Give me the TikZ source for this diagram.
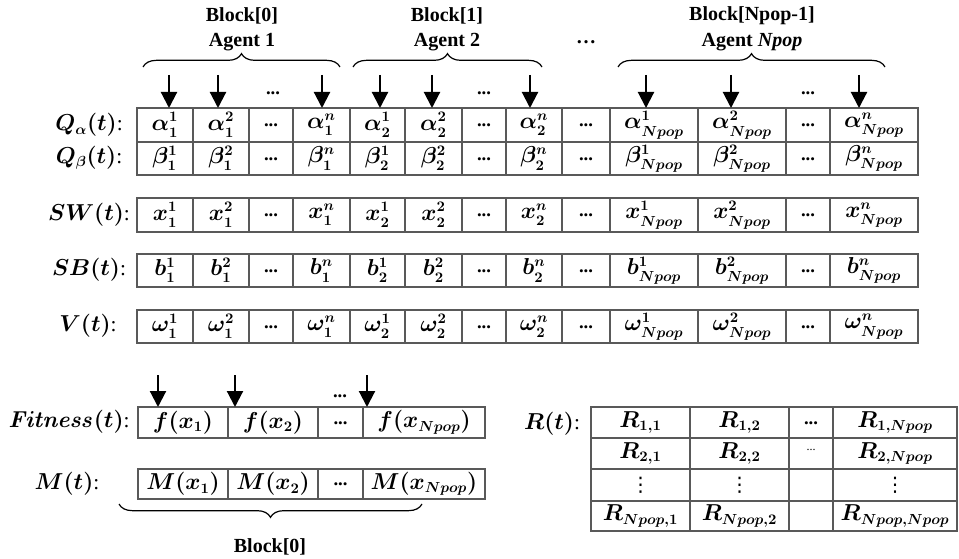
\documentclass[tikz,border=0pt]{standalone}
\usepackage{amsmath}
\usepackage[no-math]{fontspec}
\setmainfont{Liberation Serif}
\newfontfamily\djv{DejaVu Sans}
\usetikzlibrary{arrows.meta,decorations.pathreplacing}
\newcommand\cellnode[6]{\node[cell,minimum width={(#3-#2)*0.75pt},minimum height={(#5-#4)*0.75pt}] (#1) at ({(#2+#3)/2},{(#4+#5)/2}) {};
  \node[celltext] (#1-t) at (#1.center) {#6};}
\newcommand\celldots{\raisebox{-3pt}{\fontsize{14}{16}\selectfont\bfseries ...}}
\newcommand\vdotsc{{\djv\fontsize{15}{16}\selectfont ⋮}}
\newcommand\mainrow[4]{%
  \foreach \xa/\xb/\supv/\subv [count=\i] in {137/193/1/1,193/249/2/1,293/350/n/1,350/405/1/2,405/462/2/2,506/562/n/2,610/698/1/Npop,698/786/2/Npop,830/918/n/Npop}{%
    \cellnode{#1-\i}{\xa}{\xb}{#2}{#3}{$#4^{\supv}_{\subv}$}}%
  \foreach \xa/\xb [count=\i] in {249/293,462/506,562/610,786/830}{%
    \cellnode{#1-d\i}{\xa}{\xb}{#2}{#3}{\celldots}}%
}
\begin{document}
\begin{tikzpicture}[x=0.75pt,y=-0.75pt,
  cell/.style={draw=black!65,line width=0.8pt,inner sep=0pt,outer sep=0pt},
  celltext/.style={inner sep=0pt,font=\fontsize{16}{19}\selectfont\boldmath},
  lbl/.style={font=\fontsize{16}{19}\selectfont\boldmath,inner sep=0pt},
  hdr/.style={font=\fontsize{15}{18}\selectfont\bfseries,inner sep=0pt},
  dotstxt/.style={font=\fontsize{14}{16}\selectfont\bfseries,inner sep=0pt},
  arr/.style={line width=1.6pt,-{Triangle[width=12pt,length=12pt]}},
  brc/.style={decorate,decoration={brace,amplitude=10pt},line width=0.9pt}]
\useasboundingbox (0,0) rectangle (959,559);

% headers
\node[hdr] (b0) at (242,16) {Block[0]};
\node[hdr] (g1) at (242,42) {Agent 1};
\node[hdr] (b1) at (447,16) {Block[1]};
\node[hdr] (g2) at (447,42) {Agent 2};
\node[hdr] (gd) at (586,42) {…};
\node[hdr] (bn) at (752,16) {Block[Npop-1]};
\node[hdr] (gn) at (752,42) {Agent \textit{Npop}};

\draw[brc] (143,67) -- (340,67);
\draw[brc] (353,67) -- (542,67);
\draw[brc] (618,67) -- (885,67);

% rows
\mainrow{qa}{108}{142}{\alpha}
\mainrow{qb}{142}{175}{\beta}
\mainrow{sw}{198}{232}{x}
\mainrow{sb}{254}{287}{b}
\mainrow{v}{310}{343}{\omega}

\node[lbl] (lqa) at (89,125) {$Q_\alpha(t)$:};
\node[lbl] (lqb) at (89,158) {$Q_\beta(t)$:};
\node[lbl] (lsw) at (89,215) {$SW(t)$:};
\node[lbl] (lsb) at (89,270) {$SB(t)$:};
\node[lbl] (lv) at (88,326) {$V(t)$:};

% arrows top
\foreach \xx/\cc in {169/1,218/2,322/3,380/4,432/5,530/6,646/7,731/8,859/9}{
  \coordinate (top\cc) at (\xx,75);
  \draw[arr] (top\cc) -- (top\cc |- qa-\cc.north);
}
\node[dotstxt] (td1) at (273,93) {...};
\node[dotstxt] (td2) at (484,93) {...};
\node[dotstxt] (td3) at (808,93) {...};

% fitness and M
\cellnode{fit-1}{138}{228}{407}{438}{$f(x_1)$}
\cellnode{fit-2}{228}{318}{407}{438}{$f(x_2)$}
\cellnode{fit-3}{318}{363}{407}{438}{\celldots}
\cellnode{fit-4}{363}{485}{407}{438}{$f(x_{Npop})$}
\cellnode{m-1}{138}{228}{469}{499}{$M(x_1)$}
\cellnode{m-2}{228}{318}{469}{499}{$M(x_2)$}
\cellnode{m-3}{318}{363}{469}{499}{\celldots}
\cellnode{m-4}{363}{485}{469}{499}{$M(x_{Npop})$}

\node[lbl] (lfit) at (69,422) {$\mathit{Fitness}(t)$:};
\node[lbl] (lm) at (67,484) {$M(t)$:};

\foreach \xx/\cc in {158/1,235/2,367/4}{
  \coordinate (ft\cc) at (\xx,375);
  \draw[arr] (ft\cc) -- (ft\cc |- fit-\cc.north);
}
\node[dotstxt] (fd) at (340,396) {...};

\draw[brc] (422,504) -- (119,504);
\node[hdr] (bb0) at (270,547) {Block[0]};

% R table
\node[lbl] (lr) at (552,424) {$R(t)$:};
\cellnode{r11}{591}{690}{407}{438}{$R_{1,1}$}
\cellnode{r12}{690}{789}{407}{438}{$R_{1,2}$}
\cellnode{r13}{789}{833}{407}{438}{\celldots}
\cellnode{r14}{833}{957}{407}{438}{$R_{1,Npop}$}
\cellnode{r21}{591}{690}{438}{469}{$R_{2,1}$}
\cellnode{r22}{690}{789}{438}{469}{$R_{2,2}$}
\cellnode{r23}{789}{833}{438}{469}{\raisebox{5pt}{\fontsize{9}{10}\selectfont ...}}
\cellnode{r24}{833}{957}{438}{469}{$R_{2,Npop}$}
\cellnode{r31}{591}{690}{469}{501}{\vdotsc}
\cellnode{r32}{690}{789}{469}{501}{\vdotsc}
\cellnode{r33}{789}{833}{469}{501}{}
\cellnode{r34}{833}{957}{469}{501}{\vdotsc}
\cellnode{r41}{591}{690}{501}{531}{$R_{Npop,1}$}
\cellnode{r42}{690}{789}{501}{531}{$R_{Npop,2}$}
\cellnode{r43}{789}{833}{501}{531}{}
\cellnode{r44}{833}{957}{501}{531}{$R_{Npop,Npop}$}
\end{tikzpicture}
\end{document}
